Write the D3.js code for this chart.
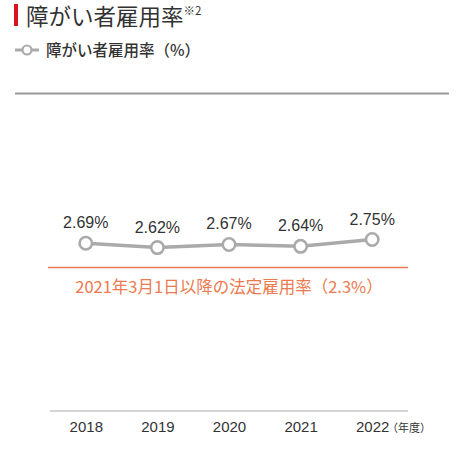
<!DOCTYPE html>
<html><head><meta charset="utf-8">
<script src="https://cdn.jsdelivr.net/npm/d3@7"></script>
<style>
html,body{margin:0;padding:0;background:#fff;}
svg{display:block;}
text{font-family:"Noto Sans CJK JP","Noto Sans",sans-serif;}
</style></head>
<body>
<svg id="c" width="463" height="464"></svg>
<script>
const years = ["2018","2019","2020","2021","2022"];
const rates = [2.69, 2.62, 2.67, 2.64, 2.75];
const rateLabels = ["2.69%","2.62%","2.67%","2.64%","2.75%"];
const legalRate = 2.3;
const legalLabel = "2021年3月1日以降の法定雇用率（2.3%）";
const title = "障がい者雇用率";
const titleNote = "※2";
const legendLabel = "障がい者雇用率（%）";
const unitLabel = "（年度）";

const svg = d3.select("#c");
const gray = "#aaaaaa", orange = "#ec7a50", dark = "#333333";

// Title
svg.append("rect").attr("x",14).attr("y",4).attr("width",4).attr("height",22).attr("fill","#d7141e");
const t = svg.append("text").attr("x",26).attr("y",24.5).attr("font-size",22.5).attr("fill",dark);
t.append("tspan").text(title);
t.append("tspan").attr("font-size",11.5).attr("dy",-10).text(titleNote);

// Legend
svg.append("line").attr("x1",15).attr("x2",39).attr("y1",50).attr("y2",50).attr("stroke",gray).attr("stroke-width",3);
svg.append("circle").attr("cx",27).attr("cy",50).attr("r",4.5).attr("fill","#fff").attr("stroke",gray).attr("stroke-width",2.2);
svg.append("text").attr("x",46).attr("y",55.5).attr("font-size",15.5).attr("font-weight",500).attr("fill",dark).text(legendLabel);

// Top rule
svg.append("line").attr("x1",15).attr("x2",449).attr("y1",93.5).attr("y2",93.5).attr("stroke","#999").attr("stroke-width",2);

// Scales
const x = d3.scalePoint().domain(years).range([50,408]).padding(0.5);
const y = d3.scaleLinear().domain([2.3, 2.75]).range([267.5, 239.5]);

// Axis
const ax = svg.append("g").attr("transform","translate(0,411)")
  .call(d3.axisBottom(x).tickSize(0).tickPadding(10));
ax.select(".domain").attr("stroke","#aaa").attr("stroke-width",1.2).attr("d","M50,0H408");
ax.selectAll("text").attr("font-size",15).attr("fill",dark)
  .style("font-family","'Liberation Sans','Noto Sans CJK JP',sans-serif");
svg.append("text").attr("x",387).attr("y",432).attr("font-size",11).attr("fill",dark).text(unitLabel);

// Legal rate line
svg.append("line").attr("x1",48).attr("x2",408).attr("y1",y(legalRate)).attr("y2",y(legalRate))
  .attr("stroke",orange).attr("stroke-width",1.5);
svg.append("text").attr("x",229).attr("y",y(legalRate)+25).attr("text-anchor","middle")
  .attr("font-size",16.5).attr("fill",orange).text(legalLabel);

// Data line
const data = years.map((yr,i)=>({yr, v:rates[i], lab:rateLabels[i]}));
svg.append("path").datum(data)
  .attr("d", d3.line().x(d=>x(d.yr)).y(d=>y(d.v)))
  .attr("fill","none").attr("stroke",gray).attr("stroke-width",3.5);
svg.selectAll("circle.pt").data(data).join("circle").attr("class","pt")
  .attr("cx",d=>x(d.yr)).attr("cy",d=>y(d.v)).attr("r",6.2)
  .attr("fill","#fff").attr("stroke",gray).attr("stroke-width",2.6);
svg.selectAll("text.val").data(data).join("text").attr("class","val")
  .attr("x",d=>x(d.yr)).attr("y",d=>y(d.v)-15).attr("text-anchor","middle")
  .attr("font-size",16).attr("fill",dark)
  .style("font-family","'Liberation Sans','Noto Sans CJK JP',sans-serif")
  .text(d=>d.lab);
</script>
</body></html>
